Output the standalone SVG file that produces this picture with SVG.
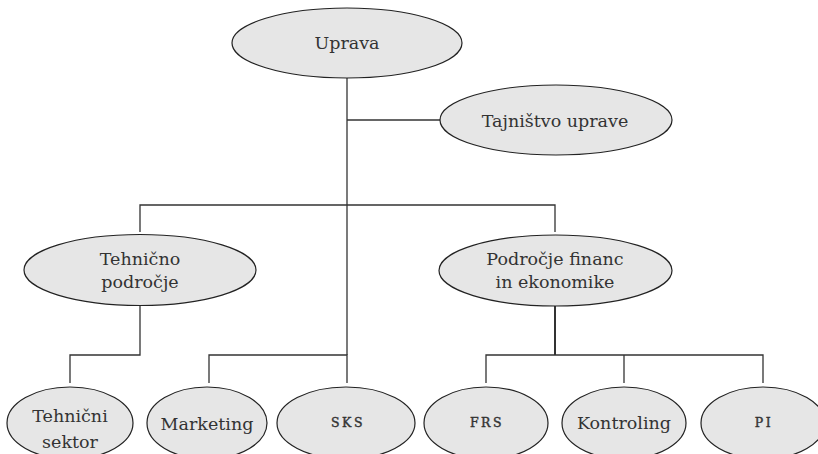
<svg xmlns="http://www.w3.org/2000/svg" width="818" height="454" viewBox="0 0 818 454">
<style>
.n ellipse{fill:#e6e6e6;stroke:#222;stroke-width:1.2}
.t{font-family:"DejaVu Serif","Liberation Serif",serif;font-size:17.5px;fill:#333;text-anchor:middle}
.sc{font-family:"DejaVu Serif","Liberation Serif",serif;font-size:12.5px;fill:#333;stroke:#333;stroke-width:0.4;text-anchor:middle;letter-spacing:2.5px}
#connectors path{fill:none;stroke:#333;stroke-width:1.3}
</style>
<rect width="818" height="454" fill="#fff"/>
<g id="connectors">
<path d="M347 78V355"/>
<path d="M347 120H440"/>
<path d="M140 232V205H555V232"/>
<path d="M140 306V355H70V383"/>
<path d="M209 383V355H347V383"/>
<path d="M555 306V355" style="stroke-width:2"/>
<path d="M486 383V355H763V383"/>
<path d="M624 355V383"/>
</g>
<g id="uprava" class="n"><ellipse cx="347" cy="43" rx="115" ry="35"/><text class="t" x="347" y="49">Uprava</text></g>
<g id="tajnistvo" class="n"><ellipse cx="556" cy="120" rx="116" ry="35"/><text class="t" x="555" y="127">Tajništvo uprave</text></g>
<g id="tehnicno" class="n"><ellipse cx="140" cy="270" rx="116" ry="35.5"/><text class="t" x="140" y="265">Tehnično</text><text class="t" x="140" y="288">področje</text></g>
<g id="podrocje" class="n"><ellipse cx="555.5" cy="270.5" rx="116.5" ry="35.5"/><text class="t" x="555" y="265">Področje financ</text><text class="t" x="555" y="288">in ekonomike</text></g>
<g id="tehnicni" class="n"><ellipse cx="70" cy="423" rx="63" ry="36"/><text class="t" x="70" y="422">Tehnični</text><text class="t" x="70" y="448">sektor</text></g>
<g id="marketing" class="n"><ellipse cx="207" cy="423" rx="60" ry="36"/><text class="t" x="207" y="430">Marketing</text></g>
<g id="sks" class="n"><ellipse cx="346" cy="423" rx="69" ry="36"/><text class="sc" x="348" y="427">SKS</text></g>
<g id="frs" class="n"><ellipse cx="486" cy="423" rx="62" ry="36"/><text class="sc" x="487" y="427">FRS</text></g>
<g id="kontroling" class="n"><ellipse cx="624" cy="423" rx="62" ry="36"/><text class="t" x="624" y="429">Kontroling</text></g>
<g id="pi" class="n"><ellipse cx="763" cy="423" rx="62" ry="36"/><text class="sc" x="764" y="427">PI</text></g>
</svg>
